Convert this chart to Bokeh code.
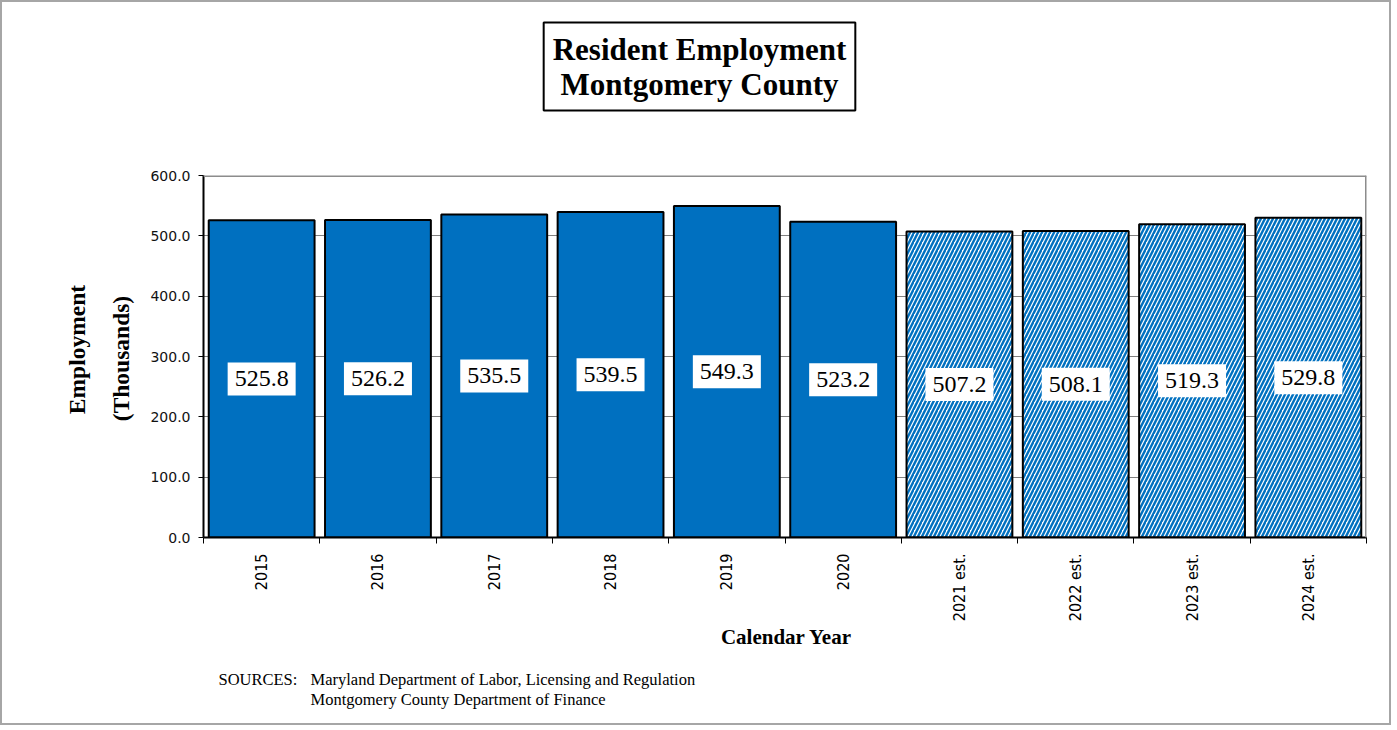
from bokeh.plotting import figure
from bokeh.models import (Range1d, FixedTicker, NumeralTickFormatter, Label,
                          ColumnDataSource, Span)
from bokeh.core.properties import value
from bokeh.embed import file_html
from bokeh.resources import INLINE
import math

# ---- data ----
years = ["2015", "2016", "2017", "2018", "2019", "2020",
         "2021 est.", "2022 est.", "2023 est.", "2024 est."]
employment = [525.8, 526.2, 535.5, 539.5, 549.3, 523.2, 507.2, 508.1, 519.3, 529.8]
is_estimate = [False, False, False, False, False, False, True, True, True, True]
y_ticks = [0, 100, 200, 300, 400, 500, 600]
title_text = "Resident Employment\nMontgomery County"
sources = ["SOURCES:", "Maryland Department of Labor, Licensing and Regulation",
           "Montgomery County Department of Finance"]

# ---- layout (positions in reference-page pixels, shifted by the css border) ----
OFF = 2
W, H = 1391, 725
FL, FR, FT, FB = 203 - OFF, 1366 - OFF, 175 - OFF, 537 - OFF
YMAX = 600
NX = len(years)

def dx(px):
    return (px - OFF - FL) / (FR - FL) * NX

def dy(py):
    return (FB - (py - OFF)) / (FB - FT) * YMAX

p = figure(width=W, height=H, x_range=Range1d(0, NX), y_range=Range1d(0, YMAX),
           output_backend="svg", toolbar_location=None,
           min_border_left=FL, min_border_right=W - FR,
           min_border_top=FT, min_border_bottom=H - FB)
p.styles = {"border": "2px solid #a6a6a6"}
p.background_fill_color = "white"
p.border_fill_color = "white"
p.outline_line_color = None

centers = [i + 0.5 for i in range(NX)]
BLUE = "#0070C0"

solid = ColumnDataSource(dict(
    x=[c for c, e in zip(centers, is_estimate) if not e],
    top=[v for v, e in zip(employment, is_estimate) if not e]))
est = ColumnDataSource(dict(
    x=[c for c, e in zip(centers, is_estimate) if e],
    top=[v for v, e in zip(employment, is_estimate) if e]))

p.vbar(x="x", top="top", bottom=0, width=0.91, source=solid,
       fill_color=BLUE, line_color="black", line_width=2)
p.vbar(x="x", top="top", bottom=0, width=0.91, source=est,
       fill_color="white", hatch_pattern="right_diagonal_line", hatch_color=BLUE,
       hatch_scale=8, hatch_weight=2.4, line_color="black", line_width=2)

lab = ColumnDataSource(dict(x=centers, y=[v / 2 for v in employment],
                            t=["%.1f" % v for v in employment]))
p.rect(x="x", y="y", width=68, height=33, width_units="screen", height_units="screen",
       source=lab, fill_color="white", line_color=None)
p.text(x="x", y="y", text="t", source=lab, text_align="center", text_baseline="middle",
       text_font=value("Liberation Serif"), text_font_size="24px", text_color="black")

# axes
p.xgrid.visible = False
p.ygrid.grid_line_color = "#808080"
p.ygrid.grid_line_width = 1

xa = p.xaxis[0]
xa.ticker = FixedTicker(ticks=centers, minor_ticks=list(range(NX + 1)))
xa.major_label_overrides = {c: y for c, y in zip(centers, years)}
xa.major_label_orientation = math.pi / 2
xa.major_tick_out = 0
xa.major_tick_in = 0
xa.minor_tick_out = 6
xa.minor_tick_in = 0
xa.minor_tick_line_color = "black"
xa.axis_line_color = "black"
xa.axis_line_width = 2
xa.major_label_standoff = 10
xa.major_label_text_font = "Liberation Sans Narrow, DejaVu Sans Condensed, sans-serif"
xa.major_label_text_font_size = "16px"
xa.major_label_text_color = "black"

ya = p.yaxis[0]
ya.ticker = FixedTicker(ticks=y_ticks)
ya.formatter = NumeralTickFormatter(format="0.0")
ya.major_tick_out = 5
ya.major_tick_in = 0
ya.minor_tick_line_color = None
ya.axis_line_color = "black"
ya.axis_line_width = 2
ya.major_label_standoff = 8
ya.major_label_text_font = "DejaVu Sans"
ya.major_label_text_font_size = "14px"
ya.major_label_text_color = "#111111"

# frame top / right
p.add_layout(Span(location=YMAX, dimension="width", line_color="#8c8c8c", line_width=3))
p.add_layout(Span(location=NX, dimension="height", line_color="#8c8c8c", line_width=3))

# texts outside the frame live in side panels (not clipped)
p.add_layout(Label(x=dx(699), y=dy(66), text=title_text, text_align="center",
                   text_baseline="middle", text_font="Liberation Serif",
                   text_font_style="bold", text_font_size="31px", text_color="black",
                   text_line_height=1.0, padding=9,
                   border_line_color="black", border_line_width=2,
                   background_fill_color="white"), "above")

p.add_layout(Label(x=dx(76), y=dy(349), text="Employment", angle=math.pi / 2,
                   text_align="center", text_baseline="middle", text_font="Liberation Serif",
                   text_font_style="bold", text_font_size="23.5px", text_color="black"), "left")
p.add_layout(Label(x=dx(120), y=dy(358), text="(Thousands)", angle=math.pi / 2,
                   text_align="center", text_baseline="middle", text_font="Liberation Serif",
                   text_font_style="bold", text_font_size="23.5px", text_color="black"), "left")

p.add_layout(Label(x=dx(786), y=dy(636), text="Calendar Year", text_align="center",
                   text_baseline="middle", text_font="Liberation Serif",
                   text_font_style="bold", text_font_size="21px", text_color="black"), "below")
p.add_layout(Label(x=dx(218), y=dy(679), text=sources[0], text_align="left",
                   text_baseline="alphabetic", text_font="Liberation Serif",
                   text_font_size="16.5px", text_color="black"), "below")
p.add_layout(Label(x=dx(310), y=dy(679), text=sources[1], text_align="left",
                   text_baseline="alphabetic", text_font="Liberation Serif",
                   text_font_size="16.5px", text_color="black"), "below")
p.add_layout(Label(x=dx(310), y=dy(699), text=sources[2], text_align="left",
                   text_baseline="alphabetic", text_font="Liberation Serif",
                   text_font_size="16.5px", text_color="black"), "below")

open("out.html", "w").write(file_html(p, INLINE))
